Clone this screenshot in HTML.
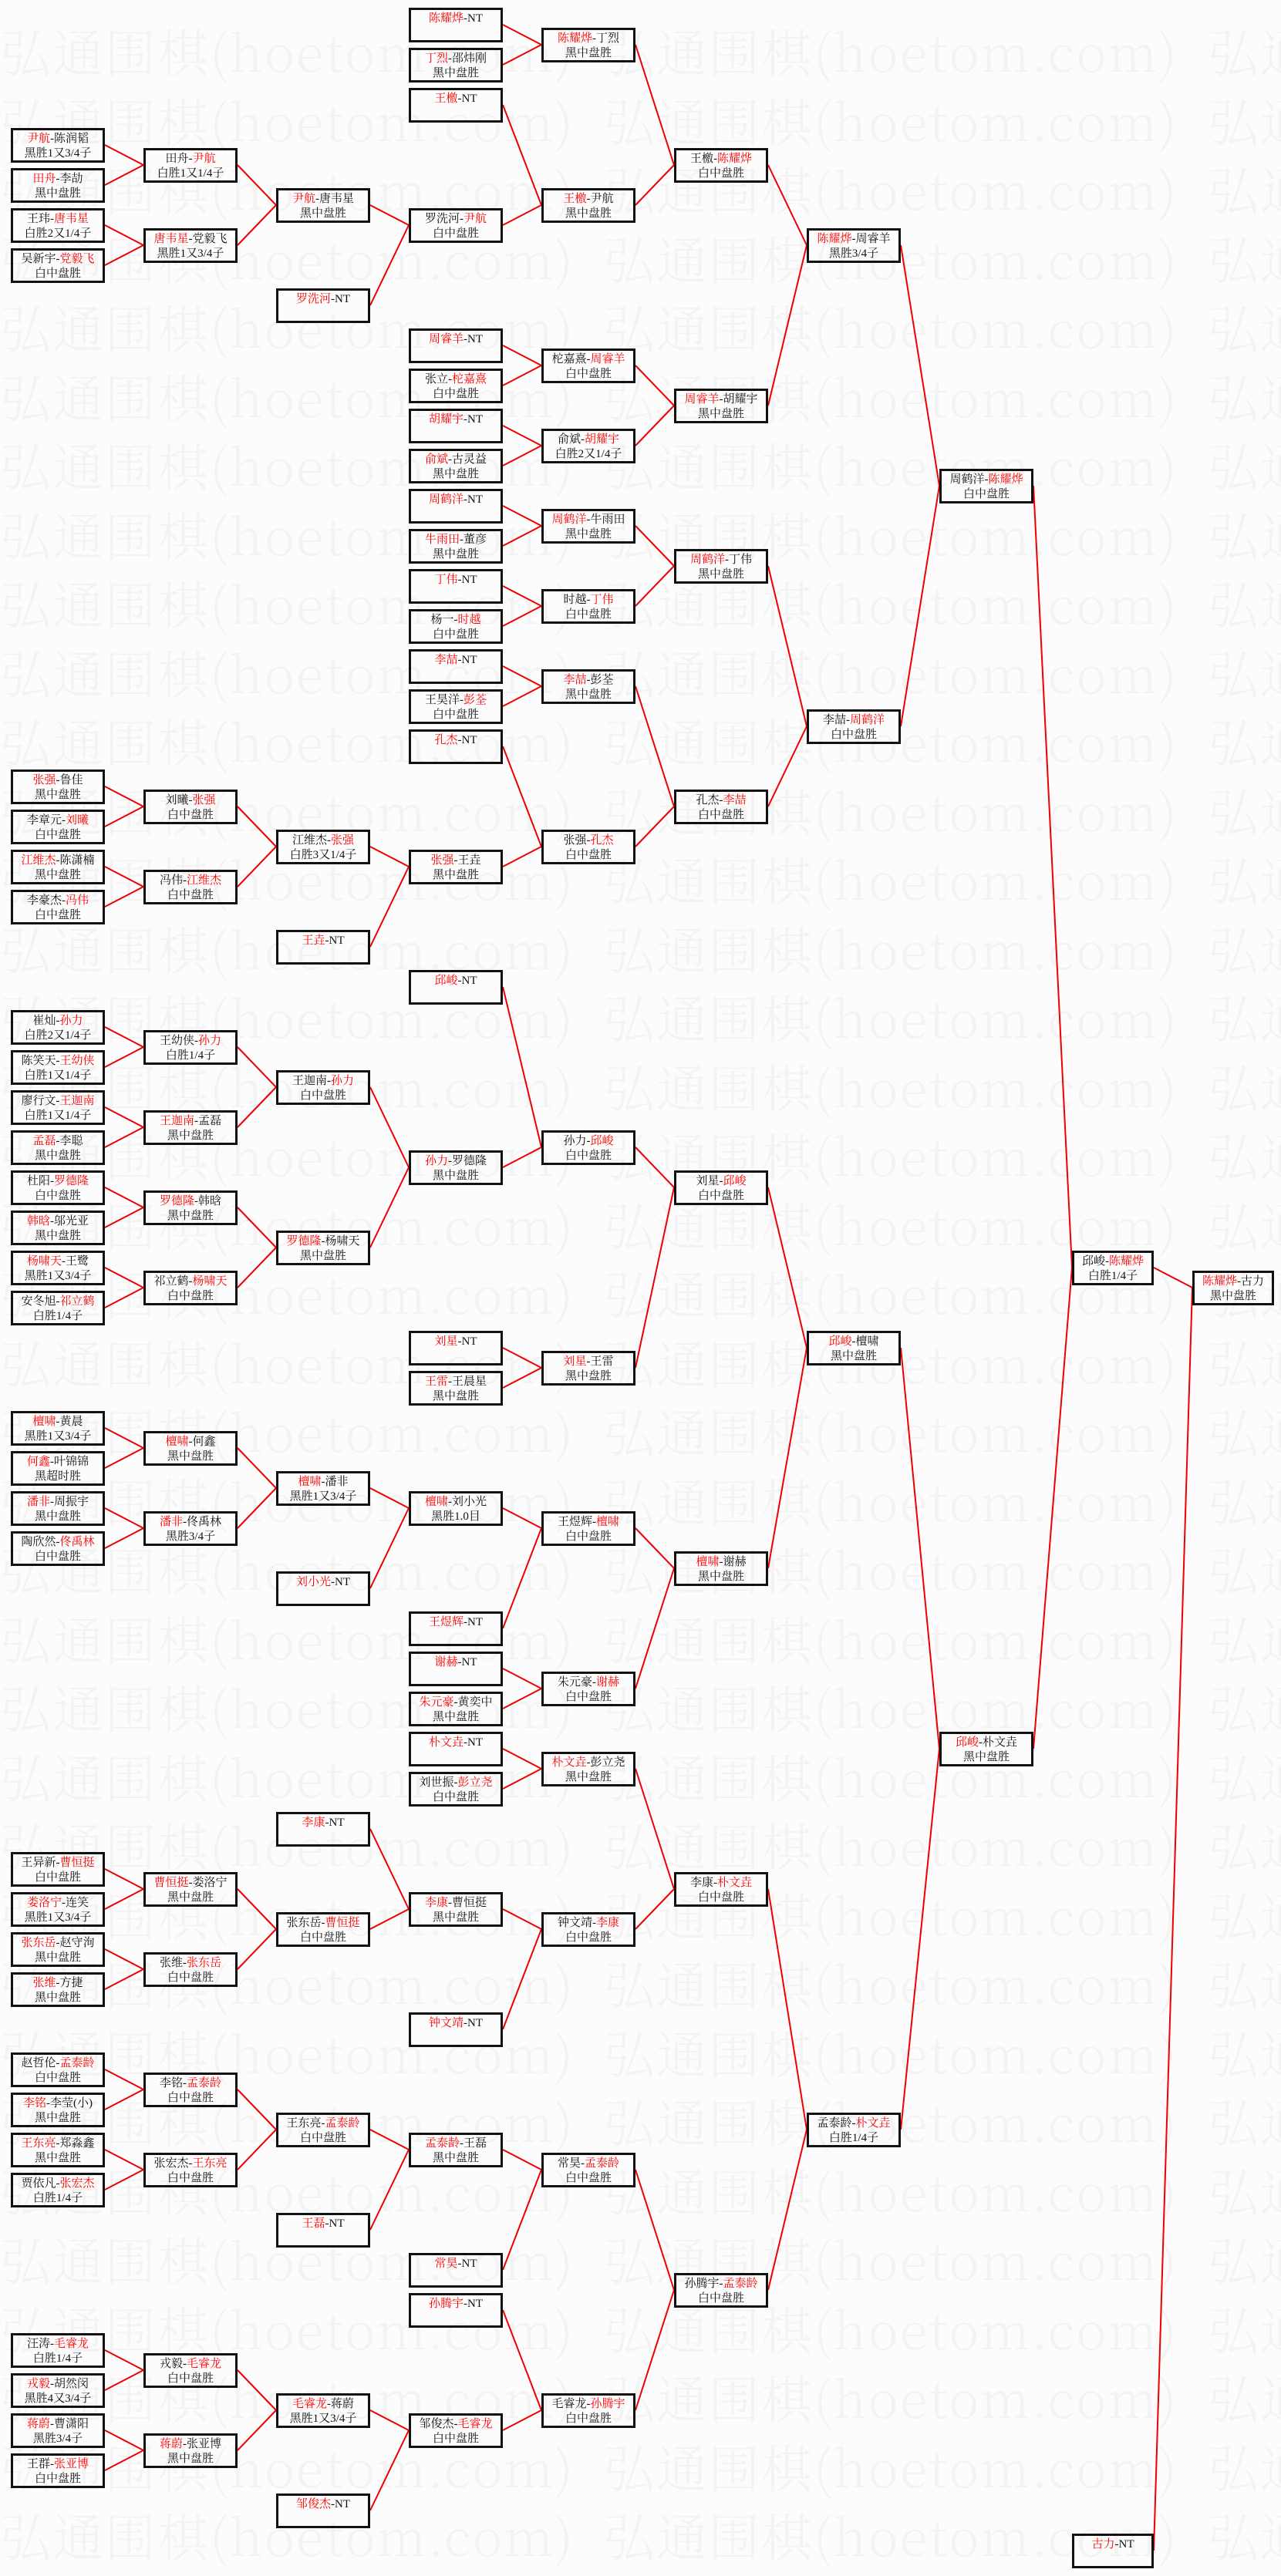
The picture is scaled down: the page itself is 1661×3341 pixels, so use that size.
<!DOCTYPE html>
<html><head><meta charset="utf-8">
<style>
html,body{margin:0;padding:0}
body{width:1661px;height:3341px;position:relative;background:#fcfcfc;overflow:hidden;font-family:"Liberation Serif","Noto Serif CJK SC","Noto Sans CJK SC",serif}
.wm{position:absolute;left:0;top:20px;width:1661px;height:3321px;overflow:hidden;font-family:"Noto Serif CJK SC","Liberation Serif",serif;font-weight:300;font-size:66px;line-height:89.5px;color:#f3f3f3;white-space:pre;letter-spacing:2px}
.b{position:absolute;box-sizing:border-box;width:122px;height:45px;border:3px solid #111;text-align:center;font-size:15px;line-height:19px;padding-top:2px;color:#111;white-space:nowrap;overflow:hidden}
.n{width:106px}
i{font-style:normal;color:#f00}
svg{position:absolute;left:0;top:0}
</style></head><body>
<div class="wm">弘通围棋(hoetom.com)  弘通围棋(hoetom.com)  弘通围棋
弘通围棋(hoetom.com)  弘通围棋(hoetom.com)  弘通围棋
弘通围棋(hoetom.com)  弘通围棋(hoetom.com)  弘通围棋
弘通围棋(hoetom.com)  弘通围棋(hoetom.com)  弘通围棋
弘通围棋(hoetom.com)  弘通围棋(hoetom.com)  弘通围棋
弘通围棋(hoetom.com)  弘通围棋(hoetom.com)  弘通围棋
弘通围棋(hoetom.com)  弘通围棋(hoetom.com)  弘通围棋
弘通围棋(hoetom.com)  弘通围棋(hoetom.com)  弘通围棋
弘通围棋(hoetom.com)  弘通围棋(hoetom.com)  弘通围棋
弘通围棋(hoetom.com)  弘通围棋(hoetom.com)  弘通围棋
弘通围棋(hoetom.com)  弘通围棋(hoetom.com)  弘通围棋
弘通围棋(hoetom.com)  弘通围棋(hoetom.com)  弘通围棋
弘通围棋(hoetom.com)  弘通围棋(hoetom.com)  弘通围棋
弘通围棋(hoetom.com)  弘通围棋(hoetom.com)  弘通围棋
弘通围棋(hoetom.com)  弘通围棋(hoetom.com)  弘通围棋
弘通围棋(hoetom.com)  弘通围棋(hoetom.com)  弘通围棋
弘通围棋(hoetom.com)  弘通围棋(hoetom.com)  弘通围棋
弘通围棋(hoetom.com)  弘通围棋(hoetom.com)  弘通围棋
弘通围棋(hoetom.com)  弘通围棋(hoetom.com)  弘通围棋
弘通围棋(hoetom.com)  弘通围棋(hoetom.com)  弘通围棋
弘通围棋(hoetom.com)  弘通围棋(hoetom.com)  弘通围棋
弘通围棋(hoetom.com)  弘通围棋(hoetom.com)  弘通围棋
弘通围棋(hoetom.com)  弘通围棋(hoetom.com)  弘通围棋
弘通围棋(hoetom.com)  弘通围棋(hoetom.com)  弘通围棋
弘通围棋(hoetom.com)  弘通围棋(hoetom.com)  弘通围棋
弘通围棋(hoetom.com)  弘通围棋(hoetom.com)  弘通围棋
弘通围棋(hoetom.com)  弘通围棋(hoetom.com)  弘通围棋
弘通围棋(hoetom.com)  弘通围棋(hoetom.com)  弘通围棋
弘通围棋(hoetom.com)  弘通围棋(hoetom.com)  弘通围棋
弘通围棋(hoetom.com)  弘通围棋(hoetom.com)  弘通围棋
弘通围棋(hoetom.com)  弘通围棋(hoetom.com)  弘通围棋
弘通围棋(hoetom.com)  弘通围棋(hoetom.com)  弘通围棋
弘通围棋(hoetom.com)  弘通围棋(hoetom.com)  弘通围棋
弘通围棋(hoetom.com)  弘通围棋(hoetom.com)  弘通围棋
弘通围棋(hoetom.com)  弘通围棋(hoetom.com)  弘通围棋
弘通围棋(hoetom.com)  弘通围棋(hoetom.com)  弘通围棋
弘通围棋(hoetom.com)  弘通围棋(hoetom.com)  弘通围棋</div>

<svg width="1661" height="3341" viewBox="0 0 1661 3341">
<g stroke="#e00" stroke-width="2" fill="none">
<path d="M652 32L702 58M652 84L702 58"/>
<path d="M136 188L186 214M136 240L186 214M136 292L186 318M136 344L186 318"/>
<path d="M308 214L358 266M308 318L358 266"/>
<path d="M480 266L530 292M480 396L530 292"/>
<path d="M652 136L702 266M652 292L702 266"/>
<path d="M824 58L874 214M824 266L874 214"/>
<path d="M996 214L1046 318M996 526L1046 318"/>
<path d="M652 448L702 474M652 500L702 474M652 552L702 578M652 604L702 578"/>
<path d="M824 474L874 526M824 578L874 526"/>
<path d="M1168 318L1218 630M1168 942L1218 630"/>
<path d="M652 656L702 682M652 708L702 682M652 760L702 786M652 812L702 786"/>
<path d="M824 682L874 734M824 786L874 734"/>
<path d="M996 734L1046 942M996 1046L1046 942"/>
<path d="M652 864L702 890M652 916L702 890"/>
<path d="M136 1020L186 1046M136 1072L186 1046M136 1124L186 1150M136 1176L186 1150"/>
<path d="M308 1046L358 1098M308 1150L358 1098"/>
<path d="M480 1098L530 1124M480 1228L530 1124"/>
<path d="M652 968L702 1098M652 1124L702 1098"/>
<path d="M824 890L874 1046M824 1098L874 1046"/>
<path d="M1340 630L1390 1644M1340 2268L1390 1644"/>
<path d="M136 1332L186 1358M136 1384L186 1358M136 1436L186 1462M136 1488L186 1462M136 1540L186 1566M136 1592L186 1566M136 1644L186 1670M136 1696L186 1670"/>
<path d="M308 1358L358 1410M308 1462L358 1410M308 1566L358 1618M308 1670L358 1618"/>
<path d="M480 1410L530 1514M480 1618L530 1514"/>
<path d="M652 1280L702 1488M652 1514L702 1488"/>
<path d="M652 1748L702 1774M652 1800L702 1774"/>
<path d="M824 1488L874 1540M824 1774L874 1540"/>
<path d="M996 1540L1046 1748M996 2034L1046 1748"/>
<path d="M136 1852L186 1878M136 1904L186 1878M136 1956L186 1982M136 2008L186 1982"/>
<path d="M308 1878L358 1930M308 1982L358 1930"/>
<path d="M480 1930L530 1956M480 2060L530 1956"/>
<path d="M652 1956L702 1982M652 2112L702 1982"/>
<path d="M652 2164L702 2190M652 2216L702 2190"/>
<path d="M824 1982L874 2034M824 2190L874 2034"/>
<path d="M1168 1748L1218 2268M1168 2762L1218 2268"/>
<path d="M652 2268L702 2294M652 2320L702 2294"/>
<path d="M136 2424L186 2450M136 2476L186 2450M136 2528L186 2554M136 2580L186 2554"/>
<path d="M308 2450L358 2502M308 2554L358 2502"/>
<path d="M480 2372L530 2476M480 2502L530 2476"/>
<path d="M652 2476L702 2502M652 2632L702 2502"/>
<path d="M824 2294L874 2450M824 2502L874 2450"/>
<path d="M996 2450L1046 2762M996 2970L1046 2762"/>
<path d="M136 2684L186 2710M136 2736L186 2710M136 2788L186 2814M136 2840L186 2814"/>
<path d="M308 2710L358 2762M308 2814L358 2762"/>
<path d="M480 2762L530 2788M480 2892L530 2788"/>
<path d="M652 2788L702 2814M652 2944L702 2814"/>
<path d="M136 3048L186 3074M136 3100L186 3074M136 3152L186 3178M136 3204L186 3178"/>
<path d="M308 3074L358 3126M308 3178L358 3126"/>
<path d="M480 3126L530 3152M480 3256L530 3152"/>
<path d="M652 2996L702 3126M652 3152L702 3126"/>
<path d="M824 2814L874 2970M824 3126L874 2970"/>
<path d="M1496 1644L1546 1670M1496 3308L1546 1670"/>
</g></svg>

<div class="b" style="left:530px;top:10px"><i>陈耀烨</i>-NT</div>
<div class="b" style="left:530px;top:62px"><i>丁烈</i>-邵炜刚<br>黑中盘胜</div>
<div class="b" style="left:702px;top:36px"><i>陈耀烨</i>-丁烈<br>黑中盘胜</div>
<div class="b" style="left:530px;top:114px"><i>王檄</i>-NT</div>
<div class="b" style="left:14px;top:166px"><i>尹航</i>-陈润韬<br>黑胜1又3/4子</div>
<div class="b" style="left:14px;top:218px"><i>田舟</i>-李劼<br>黑中盘胜</div>
<div class="b" style="left:14px;top:270px">王玮-<i>唐韦星</i><br>白胜2又1/4子</div>
<div class="b" style="left:14px;top:322px">吴新宇-<i>党毅飞</i><br>白中盘胜</div>
<div class="b" style="left:186px;top:192px">田舟-<i>尹航</i><br>白胜1又1/4子</div>
<div class="b" style="left:186px;top:296px"><i>唐韦星</i>-党毅飞<br>黑胜1又3/4子</div>
<div class="b" style="left:358px;top:244px"><i>尹航</i>-唐韦星<br>黑中盘胜</div>
<div class="b" style="left:358px;top:374px"><i>罗洗河</i>-NT</div>
<div class="b" style="left:530px;top:270px">罗洗河-<i>尹航</i><br>白中盘胜</div>
<div class="b" style="left:702px;top:244px"><i>王檄</i>-尹航<br>黑中盘胜</div>
<div class="b" style="left:874px;top:192px">王檄-<i>陈耀烨</i><br>白中盘胜</div>
<div class="b" style="left:1046px;top:296px"><i>陈耀烨</i>-周睿羊<br>黑胜3/4子</div>

<div class="b" style="left:530px;top:426px"><i>周睿羊</i>-NT</div>
<div class="b" style="left:530px;top:478px">张立-<i>柁嘉熹</i><br>白中盘胜</div>
<div class="b" style="left:530px;top:530px"><i>胡耀宇</i>-NT</div>
<div class="b" style="left:530px;top:582px"><i>俞斌</i>-古灵益<br>黑中盘胜</div>
<div class="b" style="left:702px;top:452px">柁嘉熹-<i>周睿羊</i><br>白中盘胜</div>
<div class="b" style="left:702px;top:556px">俞斌-<i>胡耀宇</i><br>白胜2又1/4子</div>
<div class="b" style="left:874px;top:504px"><i>周睿羊</i>-胡耀宇<br>黑中盘胜</div>
<div class="b" style="left:530px;top:634px"><i>周鹤洋</i>-NT</div>
<div class="b" style="left:530px;top:686px"><i>牛雨田</i>-董彦<br>黑中盘胜</div>
<div class="b" style="left:530px;top:738px"><i>丁伟</i>-NT</div>
<div class="b" style="left:530px;top:790px">杨一-<i>时越</i><br>白中盘胜</div>
<div class="b" style="left:702px;top:660px"><i>周鹤洋</i>-牛雨田<br>黑中盘胜</div>
<div class="b" style="left:702px;top:764px">时越-<i>丁伟</i><br>白中盘胜</div>
<div class="b" style="left:874px;top:712px"><i>周鹤洋</i>-丁伟<br>黑中盘胜</div>
<div class="b" style="left:530px;top:842px"><i>李喆</i>-NT</div>
<div class="b" style="left:530px;top:894px">王昊洋-<i>彭荃</i><br>白中盘胜</div>
<div class="b" style="left:530px;top:946px"><i>孔杰</i>-NT</div>
<div class="b" style="left:702px;top:868px"><i>李喆</i>-彭荃<br>黑中盘胜</div>
<div class="b" style="left:702px;top:1076px">张强-<i>孔杰</i><br>白中盘胜</div>
<div class="b" style="left:874px;top:1024px">孔杰-<i>李喆</i><br>白中盘胜</div>
<div class="b" style="left:1046px;top:920px">李喆-<i>周鹤洋</i><br>白中盘胜</div>
<div class="b" style="left:1218px;top:608px">周鹤洋-<i>陈耀烨</i><br>白中盘胜</div>

<div class="b" style="left:14px;top:998px"><i>张强</i>-鲁佳<br>黑中盘胜</div>
<div class="b" style="left:14px;top:1050px">李章元-<i>刘曦</i><br>白中盘胜</div>
<div class="b" style="left:14px;top:1102px"><i>江维杰</i>-陈潇楠<br>黑中盘胜</div>
<div class="b" style="left:14px;top:1154px">李豪杰-<i>冯伟</i><br>白中盘胜</div>
<div class="b" style="left:186px;top:1024px">刘曦-<i>张强</i><br>白中盘胜</div>
<div class="b" style="left:186px;top:1128px">冯伟-<i>江维杰</i><br>白中盘胜</div>
<div class="b" style="left:358px;top:1076px">江维杰-<i>张强</i><br>白胜3又1/4子</div>
<div class="b" style="left:358px;top:1206px"><i>王垚</i>-NT</div>
<div class="b" style="left:530px;top:1102px"><i>张强</i>-王垚<br>黑中盘胜</div>

<div class="b" style="left:530px;top:1258px"><i>邱峻</i>-NT</div>
<div class="b" style="left:14px;top:1310px">崔灿-<i>孙力</i><br>白胜2又1/4子</div>
<div class="b" style="left:14px;top:1362px">陈笑天-<i>王幼侠</i><br>白胜1又1/4子</div>
<div class="b" style="left:14px;top:1414px">廖行文-<i>王迦南</i><br>白胜1又1/4子</div>
<div class="b" style="left:14px;top:1466px"><i>孟磊</i>-李聪<br>黑中盘胜</div>
<div class="b" style="left:14px;top:1518px">杜阳-<i>罗德隆</i><br>白中盘胜</div>
<div class="b" style="left:14px;top:1570px"><i>韩晗</i>-邬光亚<br>黑中盘胜</div>
<div class="b" style="left:14px;top:1622px"><i>杨啸天</i>-王鹭<br>黑胜1又3/4子</div>
<div class="b" style="left:14px;top:1674px">安冬旭-<i>祁立鹤</i><br>白胜1/4子</div>
<div class="b" style="left:186px;top:1336px">王幼侠-<i>孙力</i><br>白胜1/4子</div>
<div class="b" style="left:186px;top:1440px"><i>王迦南</i>-孟磊<br>黑中盘胜</div>
<div class="b" style="left:186px;top:1544px"><i>罗德隆</i>-韩晗<br>黑中盘胜</div>
<div class="b" style="left:186px;top:1648px">祁立鹤-<i>杨啸天</i><br>白中盘胜</div>
<div class="b" style="left:358px;top:1388px">王迦南-<i>孙力</i><br>白中盘胜</div>
<div class="b" style="left:358px;top:1596px"><i>罗德隆</i>-杨啸天<br>黑中盘胜</div>
<div class="b" style="left:530px;top:1492px"><i>孙力</i>-罗德隆<br>黑中盘胜</div>
<div class="b" style="left:702px;top:1466px">孙力-<i>邱峻</i><br>白中盘胜</div>
<div class="b" style="left:874px;top:1518px">刘星-<i>邱峻</i><br>白中盘胜</div>
<div class="b" style="left:530px;top:1726px"><i>刘星</i>-NT</div>
<div class="b" style="left:530px;top:1778px"><i>王雷</i>-王晨星<br>黑中盘胜</div>
<div class="b" style="left:702px;top:1752px"><i>刘星</i>-王雷<br>黑中盘胜</div>
<div class="b" style="left:1046px;top:1726px"><i>邱峻</i>-檀啸<br>黑中盘胜</div>
<div class="b n" style="left:1390px;top:1622px">邱峻-<i>陈耀烨</i><br>白胜1/4子</div>
<div class="b n" style="left:1546px;top:1648px"><i>陈耀烨</i>-古力<br>黑中盘胜</div>

<div class="b" style="left:14px;top:1830px"><i>檀啸</i>-黄晨<br>黑胜1又3/4子</div>
<div class="b" style="left:14px;top:1882px"><i>何鑫</i>-叶锦锦<br>黑超时胜</div>
<div class="b" style="left:14px;top:1934px"><i>潘非</i>-周振宇<br>黑中盘胜</div>
<div class="b" style="left:14px;top:1986px">陶欣然-<i>佟禹林</i><br>白中盘胜</div>
<div class="b" style="left:186px;top:1856px"><i>檀啸</i>-何鑫<br>黑中盘胜</div>
<div class="b" style="left:186px;top:1960px"><i>潘非</i>-佟禹林<br>黑胜3/4子</div>
<div class="b" style="left:358px;top:1908px"><i>檀啸</i>-潘非<br>黑胜1又3/4子</div>
<div class="b" style="left:358px;top:2038px"><i>刘小光</i>-NT</div>
<div class="b" style="left:530px;top:1934px"><i>檀啸</i>-刘小光<br>黑胜1.0目</div>
<div class="b" style="left:702px;top:1960px">王煜辉-<i>檀啸</i><br>白中盘胜</div>
<div class="b" style="left:874px;top:2012px"><i>檀啸</i>-谢赫<br>黑中盘胜</div>
<div class="b" style="left:530px;top:2090px"><i>王煜辉</i>-NT</div>
<div class="b" style="left:530px;top:2142px"><i>谢赫</i>-NT</div>
<div class="b" style="left:530px;top:2194px"><i>朱元豪</i>-黄奕中<br>黑中盘胜</div>
<div class="b" style="left:702px;top:2168px">朱元豪-<i>谢赫</i><br>白中盘胜</div>
<div class="b" style="left:530px;top:2246px"><i>朴文垚</i>-NT</div>
<div class="b" style="left:530px;top:2298px">刘世振-<i>彭立尧</i><br>白中盘胜</div>
<div class="b" style="left:702px;top:2272px"><i>朴文垚</i>-彭立尧<br>黑中盘胜</div>
<div class="b" style="left:1218px;top:2246px"><i>邱峻</i>-朴文垚<br>黑中盘胜</div>

<div class="b" style="left:358px;top:2350px"><i>李康</i>-NT</div>
<div class="b" style="left:14px;top:2402px">王异新-<i>曹恒挺</i><br>白中盘胜</div>
<div class="b" style="left:14px;top:2454px"><i>娄洛宁</i>-连笑<br>黑胜1又3/4子</div>
<div class="b" style="left:14px;top:2506px"><i>张东岳</i>-赵守洵<br>黑中盘胜</div>
<div class="b" style="left:14px;top:2558px"><i>张维</i>-方捷<br>黑中盘胜</div>
<div class="b" style="left:186px;top:2428px"><i>曹恒挺</i>-娄洛宁<br>黑中盘胜</div>
<div class="b" style="left:186px;top:2532px">张维-<i>张东岳</i><br>白中盘胜</div>
<div class="b" style="left:358px;top:2480px">张东岳-<i>曹恒挺</i><br>白中盘胜</div>
<div class="b" style="left:530px;top:2454px"><i>李康</i>-曹恒挺<br>黑中盘胜</div>
<div class="b" style="left:530px;top:2610px"><i>钟文靖</i>-NT</div>
<div class="b" style="left:702px;top:2480px">钟文靖-<i>李康</i><br>白中盘胜</div>
<div class="b" style="left:874px;top:2428px">李康-<i>朴文垚</i><br>白中盘胜</div>

<div class="b" style="left:14px;top:2662px">赵哲伦-<i>孟泰龄</i><br>白中盘胜</div>
<div class="b" style="left:14px;top:2714px"><i>李铭</i>-李莹(小)<br>黑中盘胜</div>
<div class="b" style="left:14px;top:2766px"><i>王东亮</i>-郑淼鑫<br>黑中盘胜</div>
<div class="b" style="left:14px;top:2818px">贾依凡-<i>张宏杰</i><br>白胜1/4子</div>
<div class="b" style="left:186px;top:2688px">李铭-<i>孟泰龄</i><br>白中盘胜</div>
<div class="b" style="left:186px;top:2792px">张宏杰-<i>王东亮</i><br>白中盘胜</div>
<div class="b" style="left:358px;top:2740px">王东亮-<i>孟泰龄</i><br>白中盘胜</div>
<div class="b" style="left:358px;top:2870px"><i>王磊</i>-NT</div>
<div class="b" style="left:530px;top:2766px"><i>孟泰龄</i>-王磊<br>黑中盘胜</div>
<div class="b" style="left:702px;top:2792px">常昊-<i>孟泰龄</i><br>白中盘胜</div>
<div class="b" style="left:1046px;top:2740px">孟泰龄-<i>朴文垚</i><br>白胜1/4子</div>
<div class="b" style="left:530px;top:2922px"><i>常昊</i>-NT</div>
<div class="b" style="left:530px;top:2974px"><i>孙腾宇</i>-NT</div>
<div class="b" style="left:874px;top:2948px">孙腾宇-<i>孟泰龄</i><br>白中盘胜</div>

<div class="b" style="left:14px;top:3026px">汪涛-<i>毛睿龙</i><br>白胜1/4子</div>
<div class="b" style="left:14px;top:3078px"><i>戎毅</i>-胡然闵<br>黑胜4又3/4子</div>
<div class="b" style="left:14px;top:3130px"><i>蒋蔚</i>-曹潇阳<br>黑胜3/4子</div>
<div class="b" style="left:14px;top:3182px">王群-<i>张亚博</i><br>白中盘胜</div>
<div class="b" style="left:186px;top:3052px">戎毅-<i>毛睿龙</i><br>白中盘胜</div>
<div class="b" style="left:186px;top:3156px"><i>蒋蔚</i>-张亚博<br>黑中盘胜</div>
<div class="b" style="left:358px;top:3104px"><i>毛睿龙</i>-蒋蔚<br>黑胜1又3/4子</div>
<div class="b" style="left:358px;top:3234px"><i>邹俊杰</i>-NT</div>
<div class="b" style="left:530px;top:3130px">邹俊杰-<i>毛睿龙</i><br>白中盘胜</div>
<div class="b" style="left:702px;top:3104px">毛睿龙-<i>孙腾宇</i><br>白中盘胜</div>
<div class="b n" style="left:1390px;top:3286px"><i>古力</i>-NT</div>
</body></html>
